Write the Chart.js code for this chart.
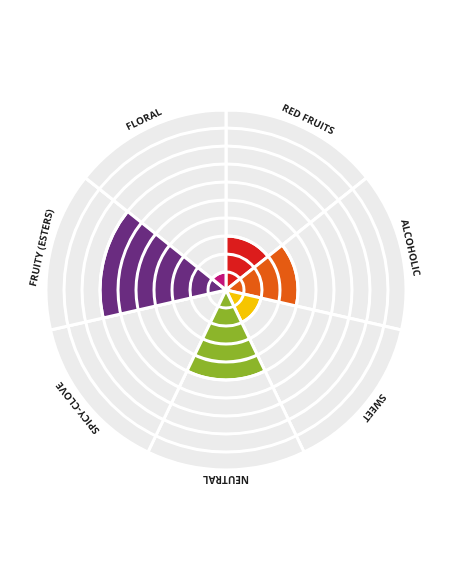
<!DOCTYPE html>
<html>
<head>
<meta charset="utf-8">
<script src="https://cdn.jsdelivr.net/npm/chart.js@4.4.0/dist/chart.umd.min.js"></script>
<style>
  html, body { margin: 0; padding: 0; background: #fff; }
  #wrap { width: 452px; height: 584px; }
</style>
</head>
<body>
<div id="wrap"><canvas id="myChart"></canvas></div>
<script>
var labels = ['RED FRUITS', 'ALCOHOLIC', 'SWEET', 'NEUTRAL', 'SPICY-CLOVE', 'FRUITY (ESTERS)', 'FLORAL'];
var values = [3, 4, 2, 5, 0, 7, 1];
var colors = ['#dc1c1c', '#e55b12', '#f6c500', '#8cb52a', '#cccccc', '#6a2c80', '#c2137b'];
var maxValue = 10;
var background = labels.map(function(){ return maxValue; });

// white rings on top of the wedges + rotated labels around the outside
var ringsAndLabels = {
  id: 'ringsAndLabels',
  afterDatasetsDraw: function(chart){
    var s = chart.scales.r;
    var ctx = chart.ctx;
    ctx.save();
    ctx.strokeStyle = '#ffffff';
    ctx.lineWidth = 3;
    for (var v = 1; v < maxValue; v++) {
      ctx.beginPath();
      ctx.arc(s.xCenter, s.yCenter, s.getDistanceFromCenterForValue(v), 0, 2 * Math.PI);
      ctx.stroke();
    }
    ctx.restore();
  },
  afterDraw: function(chart){
    var s = chart.scales.r;
    var ctx = chart.ctx;
    var n = labels.length;
    ctx.save();
    ctx.font = 'bold 10px "Open Sans", sans-serif';
    ctx.fillStyle = '#1e1e1e';
    ctx.textAlign = 'center';
    ctx.textBaseline = 'bottom';
    for (var i = 0; i < n; i++) {
      var a = (i + 0.5) * 2 * Math.PI / n;
      ctx.save();
      ctx.translate(s.xCenter + Math.sin(a) * (s.drawingArea + 4), s.yCenter - Math.cos(a) * (s.drawingArea + 4));
      ctx.rotate(a);
      ctx.fillText(labels[i], 0, 0);
      ctx.restore();
    }
    ctx.restore();
  }
};

// datasets are painted last-to-first, so the grey one goes last
const data = {
  labels: labels,
  datasets: [
    { data: values, backgroundColor: colors, borderColor: '#ffffff', borderWidth: 3 },
    { data: background, backgroundColor: '#ececec', borderColor: '#ffffff', borderWidth: 3 }
  ]
};

const config = {
  type: 'polarArea',
  data: data,
  options: {
    responsive: true,
    maintainAspectRatio: false,
    animation: false,
    layout: { padding: { left: 46, right: 46, top: 110, bottom: 114 } },
    plugins: { legend: { display: false }, tooltip: { enabled: false } },
    scales: {
      r: {
        min: 0,
        max: maxValue,
        ticks: { display: false, stepSize: 1 },
        grid: { display: false },
        angleLines: { display: false },
        pointLabels: { display: false }
      }
    }
  },
  plugins: [ringsAndLabels]
};

const myChart = new Chart(document.getElementById('myChart'), config);
</script>
</body>
</html>
